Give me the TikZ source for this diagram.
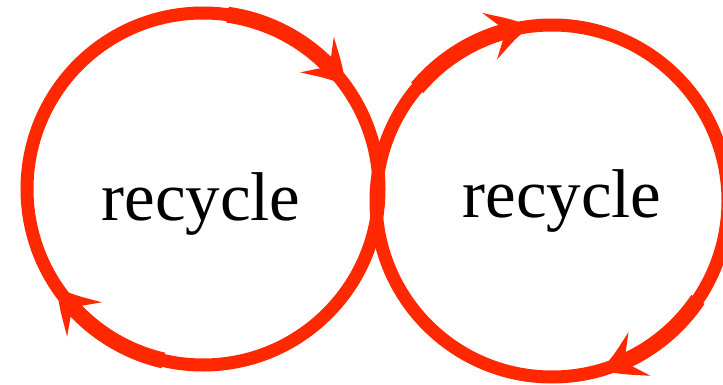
\documentclass[tikz,border=0pt]{standalone}
\usepackage{fontspec}
\setmainfont{Liberation Serif}
\usetikzlibrary{arrows.meta,bending}
\definecolor{ringred}{RGB}{255,40,0}
\tikzset{
  ring/.style={circle, draw=ringred, line width=13pt, minimum size=352pt, inner sep=0pt},
  arrowarc/.style={draw=ringred, line width=16pt, -{Stealth[length=42pt, width=48pt, inset=17pt, bend]}},
  word/.style={anchor=base, font=\fontsize{69}{80}\selectfont, inner sep=0pt}
}
\begin{document}
\begin{tikzpicture}[x=1pt,y=1pt]
\useasboundingbox (0,0) rectangle (723,384);
\node[ring] (L) at (203,195) {};
\node[ring] (R) at (552,183) {};
\node[word] (tl) at (201,164) {recycle};
\node[word] (tr) at (562,167) {recycle};
\draw[arrowarc] ([shift={(82:176pt)}]L.center) arc[start angle=82, end angle=36, radius=176pt];
\draw[arrowarc] ([shift={(257:176pt)}]L.center) arc[start angle=257, end angle=214, radius=176pt];
\draw[arrowarc] ([shift={(140:176pt)}]R.center) arc[start angle=140, end angle=97, radius=176pt];
\draw[arrowarc] ([shift={(326:176pt)}]R.center) arc[start angle=326, end angle=286, radius=176pt];
\end{tikzpicture}
\end{document}
